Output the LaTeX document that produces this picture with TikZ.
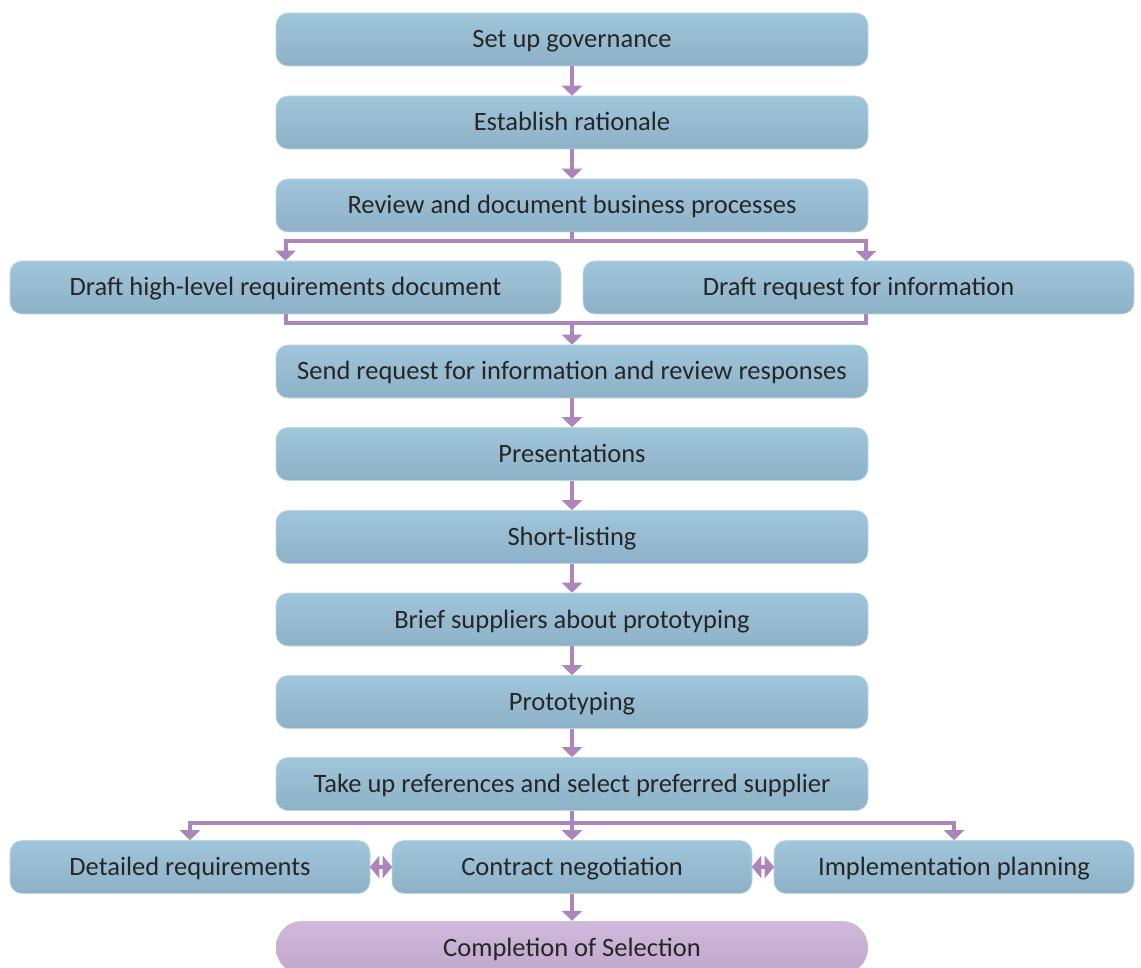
\documentclass[tikz,border=0pt]{standalone}
\usepackage{fontspec}
\setmainfont{Carlito}
\usetikzlibrary{arrows.meta}
\definecolor{boxtop}{HTML}{A0C6DB}
\definecolor{boxbot}{HTML}{8DB1C7}
\definecolor{pinktop}{HTML}{D0BADB}
\definecolor{pinkbot}{HTML}{C0A6CC}
\definecolor{arr}{HTML}{AC85BD}
\definecolor{txt}{HTML}{262626}
\begin{document}
\begin{tikzpicture}[x=1pt,y=-1pt,
  stepbox/.style={rounded corners=12pt, top color=boxtop, bottom color=boxbot, draw=boxtop!70!white, line width=0.6pt,
    text=txt, font=\fontsize{26.5}{30}\selectfont, inner sep=0pt, text height=20pt, text depth=3pt},
  endbox/.style={rounded corners=26pt, top color=pinktop, bottom color=pinkbot, draw=none, inner sep=0pt},
  flow/.style={draw=arr, line width=4pt, -{Triangle[width=20pt,length=10pt]}},
  link/.style={draw=arr, line width=4pt},
  dbl/.style={draw=arr, line width=3.5pt, {Triangle[width=22pt,length=9.5pt]}-{Triangle[width=22pt,length=9.5pt]}, shorten <=-0.5pt, shorten >=-0.5pt}
]
\useasboundingbox (0,0) rectangle (1141,968);
\begin{scope}
\clip (0,0) rectangle (1141,968);
% main column boxes
\node[stepbox, minimum width=592pt, minimum height=53pt] (b1) at (572,39.5) {Set up governance};
\node[stepbox, minimum width=592pt, minimum height=53pt] (b2) at (572,122.5) {Establish rationale};
\node[stepbox, minimum width=592pt, minimum height=53pt] (b3) at (572,205.5) {Review and document business processes};
\node[stepbox, minimum width=551pt, minimum height=53pt] (b4a) at (285.5,287.5) {Draft high-level requirements document};
\node[stepbox, minimum width=551pt, minimum height=53pt] (b4b) at (858.5,287.5) {Draft request for information};
\node[stepbox, minimum width=592pt, minimum height=53pt] (b5) at (572,371.5) {Send request for information and review responses};
\node[stepbox, minimum width=592pt, minimum height=53pt] (b6) at (572,454) {Presentations};
\node[stepbox, minimum width=592pt, minimum height=53pt] (b7) at (572,537) {Short-listing};
\node[stepbox, minimum width=592pt, minimum height=53pt] (b8) at (572,619.5) {Brief suppliers about prototyping};
\node[stepbox, minimum width=592pt, minimum height=53pt] (b9) at (572,702) {Prototyping};
\node[stepbox, minimum width=592pt, minimum height=53pt] (b10) at (572,784) {Take up references and select preferred supplier};
\node[stepbox, minimum width=360pt, minimum height=53pt] (b11a) at (190,867) {Detailed requirements};
\node[stepbox, minimum width=360pt, minimum height=53pt] (b11b) at (572,867) {Contract negotiation};
\node[stepbox, minimum width=360pt, minimum height=53pt] (b11c) at (954,867) {Implementation planning};
\node[endbox, minimum width=592pt, minimum height=53pt] (b12) at (572,947.5) {};
\node[text=txt, font=\fontsize{26.5}{30}\selectfont, anchor=base] (t12) at (572,956) {Completion of Selection};
\end{scope}
% simple arrows
\draw[flow] (b1.south) -- (b2.north);
\draw[flow] (b2.south) -- (b3.north);
\draw[flow] (b5.south) -- (b6.north);
\draw[flow] (b6.south) -- (b7.north);
\draw[flow] (b7.south) -- (b8.north);
\draw[flow] (b8.south) -- (b9.north);
\draw[flow] (b9.south) -- (b10.north);
\draw[flow] (b11b.south) -- (b12.north);
% split after review
\coordinate (s1) at (572,241.5);
\coordinate (r1) at (866,261);
\draw[link] (b3.south) -- (s1);
\draw[flow] ([xshift=2pt]s1) -| (b4a.north);
\draw[flow] ([xshift=-2pt]s1) -| (r1);
% merge into send request
\coordinate (m1) at (572,323.5);
\coordinate (r2) at (866,314);
\draw[link] (b4a.south) |- ([xshift=2pt]m1);
\draw[link] (r2) |- ([xshift=-2pt]m1);
\draw[flow] ([yshift=-2pt]m1) -- (b5.north);
% split after references
\coordinate (s2) at (572,822.5);
\draw[link] (b10.south) -- (s2);
\draw[flow] ([xshift=2pt]s2) -| (b11a.north);
\draw[flow] ([xshift=-2pt]s2) -| (b11c.north);
\draw[flow] (s2) -- (b11b.north);
% double arrows
\draw[dbl] (b11a.east) -- (b11b.west);
\draw[dbl] (b11b.east) -- (b11c.west);
\end{tikzpicture}
\end{document}
